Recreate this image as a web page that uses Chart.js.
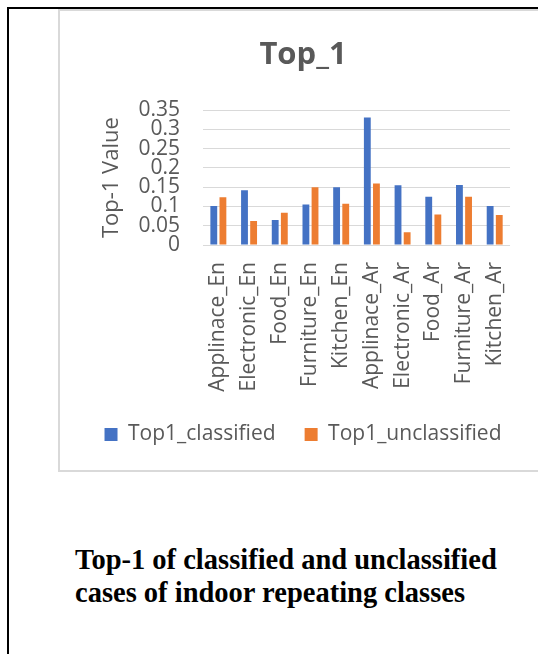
<!DOCTYPE html>
<html>
<head>
<meta charset="utf-8">
<script src="https://cdn.jsdelivr.net/npm/chart.js@4.4.0/dist/chart.umd.min.js"></script>
<style>
  html, body { margin: 0; padding: 0; background: #fff; width: 538px; height: 654px; overflow: hidden; position: relative; }
  #frameTop { position: absolute; left: 7px; top: 7px; width: 531px; height: 2px; background: #000; }
  #frameLeft { position: absolute; left: 7px; top: 7px; width: 2px; height: 647px; background: #000; }
  #box { position: absolute; left: 58px; top: 9px; width: 482px; height: 459px; border: 2px solid #d9d9d9; border-right: none; }
  #chart { position: absolute; left: 58px; top: 10px; }
  #caption { position: absolute; left: 75px; top: 543px; font: bold 28.5px/33px "Liberation Serif", "Times New Roman", serif; color: #000; white-space: nowrap; }
</style>
</head>
<body>
<div id="frameTop"></div>
<div id="frameLeft"></div>
<div id="box"></div>
<canvas id="chart" width="480" height="461" style="width:480px;height:461px"></canvas>
<div id="caption">Top-1 of classified and unclassified<br>cases of indoor repeating classes</div>
<script>
// Categories (English / Arabic product classes)
const categories = ['Applinace_En', 'Electronic_En', 'Food_En', 'Furniture_En', 'Kitchen_En',
                    'Applinace_Ar', 'Electronic_Ar', 'Food_Ar', 'Furniture_Ar', 'Kitchen_Ar'];

// Top-1 values per class
const top1Classified   = [0.101, 0.142, 0.065, 0.105, 0.150, 0.331, 0.155, 0.125, 0.156, 0.101];
const top1Unclassified = [0.124, 0.062, 0.084, 0.150, 0.107, 0.160, 0.033, 0.079, 0.125, 0.078];

// Value axis range
const yMin = 0;
const yMax = 0.35;
const yStep = 0.05;

const FONT = '"Open Sans", "Noto Sans", sans-serif';
const TEXT = '#595959';

new Chart(document.getElementById('chart'), {
  type: 'bar',
  data: {
    labels: categories,
    datasets: [
      { label: 'Top1_classified', data: top1Classified, backgroundColor: '#4472C4', borderWidth: 0,
        categoryPercentage: 0.594, barPercentage: 0.75 },
      { label: 'Top1_unclassified', data: top1Unclassified, backgroundColor: '#ED7D31', borderWidth: 0,
        categoryPercentage: 0.594, barPercentage: 0.75 }
    ]
  },
  options: {
    responsive: false,
    animation: false,
    devicePixelRatio: 1,
    layout: { padding: { left: 10, right: 0, top: 0, bottom: 16 } },
    plugins: {
      title: {
        display: true, text: 'Top_1', color: TEXT,
        font: { family: FONT, size: 31, weight: 'bold' },
        padding: { top: 27, bottom: 36 }
      },
      legend: {
        position: 'bottom',
        labels: { color: TEXT, font: { family: FONT, size: 21 }, boxWidth: 13, boxHeight: 13, padding: 29 }
      },
      tooltip: { enabled: false }
    },
    scales: {
      x: {
        grid: { display: false, drawTicks: false },
        border: { display: false },
        ticks: { color: TEXT, font: { family: FONT, size: 21 }, minRotation: 90, maxRotation: 90, padding: 17, autoSkip: false },
        afterFit(scale) { scale.height = 150; }
      },
      y: {
        min: yMin, max: yMax,
        grid: { color: '#d9d9d9', drawTicks: false },
        border: { display: false },
        ticks: {
          stepSize: yStep, autoSkip: false, color: TEXT, font: { family: FONT, size: 21 }, padding: 23,
          callback: (v) => String(Number(v.toFixed(2)))
        },
        title: { display: true, text: 'Top-1 Value', color: TEXT, font: { family: FONT, size: 22 }, padding: { top: 31 } },
        afterFit(scale) { scale.width = 135; }
      },
      // empty right-hand gutter beside the plot
      gutter: {
        type: 'linear', position: 'right',
        grid: { display: false, drawTicks: false },
        border: { display: false },
        ticks: { display: false },
        afterFit(scale) { scale.width = 22; }
      }
    }
  }
});
</script>
</body>
</html>
